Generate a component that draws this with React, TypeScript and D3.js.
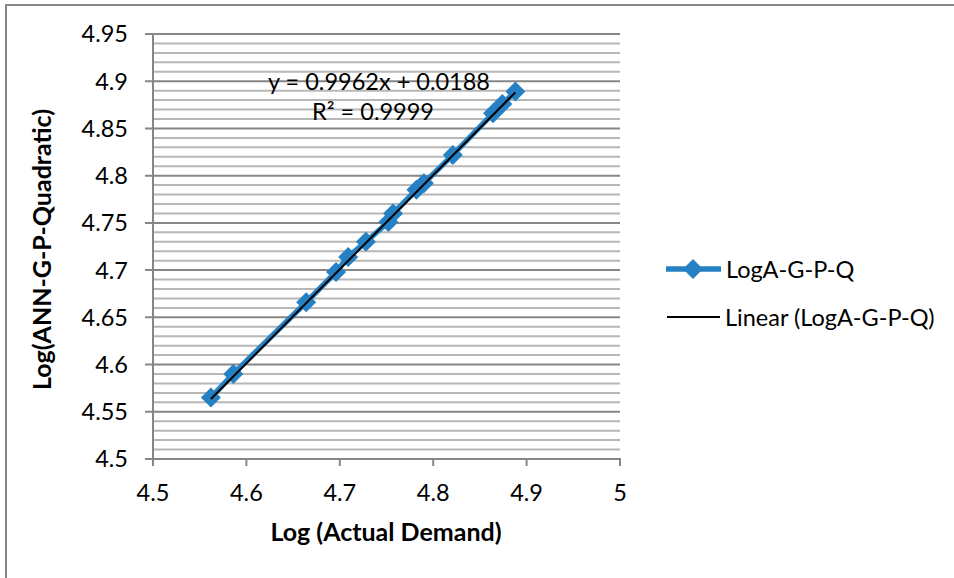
import React from 'react';
import * as d3 from 'd3';

// log of actual demand (x) vs log of ANN-G-P-Quadratic forecast (y)
const logActual = [4.562, 4.586, 4.664, 4.696, 4.709, 4.728, 4.752, 4.757, 4.782, 4.79, 4.821, 4.864, 4.874, 4.888];
const logPredicted = [4.565, 4.59, 4.666, 4.698, 4.714, 4.73, 4.751, 4.76, 4.785, 4.792, 4.822, 4.866, 4.876, 4.889];
const xTicks = [4.5, 4.6, 4.7, 4.8, 4.9, 5];
const yTicks = [4.5, 4.55, 4.6, 4.65, 4.7, 4.75, 4.8, 4.85, 4.9, 4.95];
const seriesName = 'LogA-G-P-Q';
const trendName = 'Linear (LogA-G-P-Q)';
const slope = 0.9962;
const intercept = 0.0188;
const equation = 'y = 0.9962x + 0.0188';
const rSquared = 'R² = 0.9999';

const W = 954;
const H = 578;
const left = 153;
const right = 620;
const top = 34;
const bottom = 459;
const blue = '#2681c4';
const axisGray = '#868686';
const font = 'Lato, "Open Sans", sans-serif';
const fs = 23.5;

const diamond = (r: number) => `M0,${-r}L${r},0L0,${r}L${-r},0Z`;

export default function App() {
  const x = d3.scaleLinear().domain([4.5, 5]).range([left, right]);
  const y = d3.scaleLinear().domain([4.5, 4.95]).range([bottom, top]);

  const points = logActual.map((a, i) => [a, logPredicted[i]] as [number, number]);
  const line = d3.line<[number, number]>()
    .x(d => x(d[0]))
    .y(d => y(d[1]));

  const xMin = d3.min(logActual) as number;
  const xMax = d3.max(logActual) as number;
  const trend: [number, number][] = [
    [xMin, slope * xMin + intercept],
    [xMax, slope * xMax + intercept],
  ];

  // minor gridlines every 0.01
  const minor = y.ticks(45).filter(v => Math.abs(v * 20 - Math.round(v * 20)) > 1e-6);

  return (
    <svg width={W} height={H} style={{ position: 'absolute', left: 0, top: 0, background: '#fff' }}>
      <rect x={6} y={5} width={1200} height={1200} fill="none" stroke={axisGray} strokeWidth={2} />

      {/* gridlines */}
      {minor.map(v => (
        <line key={'m' + v} x1={left} x2={right} y1={y(v)} y2={y(v)} stroke="#b7b7b7" strokeWidth={2} />
      ))}
      {yTicks.map(v => (
        <line key={'g' + v} x1={left - 8} x2={right} y1={y(v)} y2={y(v)} stroke={axisGray} strokeWidth={2} />
      ))}

      {/* axes */}
      <line x1={left} x2={left} y1={top} y2={bottom} stroke={axisGray} strokeWidth={2} />
      <line x1={left} x2={right + 1} y1={bottom} y2={bottom} stroke={axisGray} strokeWidth={2} />
      {xTicks.map(v => (
        <line key={'xt' + v} x1={x(v)} x2={x(v)} y1={bottom} y2={bottom + 7} stroke={axisGray} strokeWidth={2} />
      ))}

      {/* tick labels */}
      <g fontFamily={font} fontSize={fs} fill="#000">
        {yTicks.map(v => (
          <text key={'yl' + v} x={128} y={y(v)} dy="0.36em" textAnchor="end">{String(v)}</text>
        ))}
        {xTicks.map(v => (
          <text key={'xl' + v} x={x(v)} y={493} dy="0.36em" textAnchor="middle">{String(v)}</text>
        ))}
      </g>

      {/* series */}
      <path d={line(points) as string} fill="none" stroke={blue} strokeWidth={5.5} strokeLinejoin="round" />
      {points.map((d, i) => (
        <path key={'p' + i} d={diamond(10)} transform={`translate(${x(d[0])},${y(d[1])})`} fill={blue} />
      ))}
      <path d={line(trend) as string} fill="none" stroke="#000" strokeWidth={2} />

      {/* trendline label */}
      <g fontFamily={font} fontSize={fs} fill="#000" textAnchor="middle">
        <text x={379} y={90}>{equation}</text>
        <text x={373} y={120}>{rSquared}</text>
      </g>

      {/* axis titles */}
      <text x={386} y={541} fontFamily={font} fontSize={25} fontWeight="bold" textAnchor="middle">
        Log (Actual Demand)
      </text>
      <text transform={`translate(51,${(top + bottom) / 2 + 3}) rotate(-90)`} fontFamily={font} fontSize={25}
        fontWeight="bold" textAnchor="middle">
        Log(ANN-G-P-Quadratic)
      </text>

      {/* legend */}
      <line x1={666} x2={721} y1={269} y2={269} stroke={blue} strokeWidth={5.5} />
      <path d={diamond(10)} transform="translate(693,269)" fill={blue} />
      <text x={726} y={270} dy="0.36em" fontFamily={font} fontSize={fs}>{seriesName}</text>
      <line x1={667} x2={720} y1={317} y2={317} stroke="#000" strokeWidth={2} />
      <text x={725} y={318} dy="0.36em" fontFamily={font} fontSize={fs}>{trendName}</text>
    </svg>
  );
}
